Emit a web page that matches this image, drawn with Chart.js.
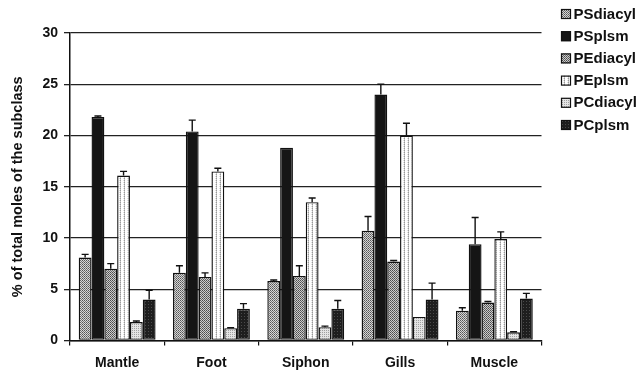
<!DOCTYPE html>
<html><head><meta charset="utf-8">
<script src="https://cdn.jsdelivr.net/npm/chart.js@4.4.0/dist/chart.umd.min.js"></script>
<style>html,body{margin:0;padding:0;background:#fff}#wrap{width:642px;height:371px;position:relative}</style>
</head><body><div id="wrap"><canvas id="c"></canvas></div>
<script>
const categories = ['Mantle', 'Foot', 'Siphon', 'Gills', 'Muscle'];
const seriesNames = ['PSdiacyl', 'PSplsm', 'PEdiacyl', 'PEplsm', 'PCdiacyl', 'PCplsm'];
const PSdiacyl = [8.1, 6.6, 5.8, 10.7, 2.9];
const PSplsm   = [21.8, 20.4, 18.8, 24.0, 9.4];
const PEdiacyl = [7.0, 6.2, 6.3, 7.7, 3.7];
const PEplsm   = [16.1, 16.5, 13.5, 20.0, 9.9];
const PCdiacyl = [1.8, 1.2, 1.3, 2.3, 0.8];
const PCplsm   = [4.0, 3.1, 3.1, 4.0, 4.1];
const PSdiacylErr = [0.3, 0.7, 0.1, 1.4, 0.3];
const PSplsmErr   = [0.1, 1.1, 0.0, 1.0, 2.6];
const PEdiacylErr = [0.5, 0.4, 1.0, 0.1, 0.1];
const PEplsmErr   = [0.4, 0.3, 0.4, 1.2, 0.7];
const PCdiacylErr = [0.1, 0.05, 0.1, 0.0, 0.05];
const PCplsmErr   = [0.9, 0.5, 0.8, 1.6, 0.5];
const yTickValues = [0, 5, 10, 15, 20, 25, 30];
const yAxisTitle = '% of total moles of the subclass';

function makePattern(w, h, bg, dots) {
  const c = document.createElement('canvas');
  c.width = w; c.height = h;
  const g = c.getContext('2d');
  g.fillStyle = bg; g.fillRect(0, 0, w, h);
  dots.forEach(([x, y, col]) => { g.fillStyle = col; g.fillRect(x, y, 1, 1); });
  return g.createPattern(c, 'repeat');
}
const fills = [
  makePattern(2, 2, '#d6d6d6', [[0,0,'#555'],[1,1,'#777']]),
  '#151515',
  makePattern(2, 2, '#cccccc', [[0,0,'#4c4c4c'],[1,1,'#666']]),
  makePattern(4, 2, '#ffffff', [[0,0,'#999'],[0,1,'#c8c8c8'],[3,0,'#e0e0e0']]),
  makePattern(2, 2, '#e4e4e4', [[0,0,'#a0a0a0']]),
  makePattern(3, 3, '#1e1e1e', [[1,1,'#4a4a4a']])
];
const seriesData = [PSdiacyl, PSplsm, PEdiacyl, PEplsm, PCdiacyl, PCplsm];
const seriesErr = [PSdiacylErr, PSplsmErr, PEdiacylErr, PEplsmErr, PCdiacylErr, PCplsmErr];
const FONT = 'Liberation Sans, Arial, sans-serif';

const errorBars = {
  id: 'errorBars',
  afterDatasetsDraw(chart) {
    const ctx = chart.ctx, ys = chart.scales.y;
    chart.data.datasets.forEach((ds, i) => {
      const meta = chart.getDatasetMeta(i);
      meta.data.forEach((bar, j) => {
        const e = ds.errors[j];
        if (!e) return;
        const x = bar.x;
        const y0 = ys.getPixelForValue(ds.data[j]);
        const y1 = ys.getPixelForValue(ds.data[j] + e);
        ctx.save();
        ctx.strokeStyle = '#111'; ctx.lineWidth = 1.4;
        ctx.beginPath();
        ctx.moveTo(x, y0); ctx.lineTo(x, y1);
        ctx.moveTo(x - 3.5, y1); ctx.lineTo(x + 3.5, y1);
        ctx.stroke();
        ctx.restore();
      });
    });
  }
};

const sideLegend = {
  id: 'sideLegend',
  afterDraw(chart) {
    const ctx = chart.ctx;
    const x0 = chart.chartArea.right + 19.5;
    ctx.save();
    ctx.font = 'bold 15px ' + FONT;
    ctx.textBaseline = 'middle';
    ctx.textAlign = 'left';
    chart.data.datasets.forEach((ds, i) => {
      const cy = 14 + i * 22.2;
      ctx.fillStyle = ds.backgroundColor;
      ctx.fillRect(x0, cy - 5, 10, 10);
      ctx.strokeStyle = '#111'; ctx.lineWidth = 1.2;
      ctx.strokeRect(x0 + 0.5, cy - 4.5, 9, 9);
      ctx.fillStyle = '#111';
      ctx.fillText(ds.label, x0 + 12.5, cy + 0.5);
    });
    ctx.restore();
  }
};

new Chart(document.getElementById('c'), {
  type: 'bar',
  data: {
    labels: categories,
    datasets: seriesNames.map((n, i) => ({
      label: n,
      data: seriesData[i],
      errors: seriesErr[i],
      backgroundColor: fills[i],
      borderColor: '#111',
      borderWidth: 1.4,
      borderSkipped: false,
      categoryPercentage: 0.815,
      barPercentage: 1.0
    }))
  },
  options: {
    responsive: true,
    maintainAspectRatio: false,
    animation: false,
    layout: { padding: 0 },
    plugins: {
      legend: { display: false },
      tooltip: { enabled: false }
    },
    scales: {
      x: {
        grid: { offset: true, drawOnChartArea: false, drawTicks: true, tickLength: 5, color: '#111', lineWidth: 1.2 },
        border: { display: true, color: '#111', width: 1.5 },
        ticks: { color: '#111', padding: 9, font: { family: FONT, size: 14, weight: 'bold' } },
        afterFit(s) { s.height = 30.5; }
      },
      x2: {
        type: 'category', position: 'top', display: true,
        grid: { display: false }, border: { display: false }, ticks: { display: false },
        afterFit(s) { s.height = 33; }
      },
      y: {
        min: 0, max: 30,
        afterBuildTicks(s) { s.ticks = yTickValues.map(v => ({ value: v })); },
        grid: { color: '#222', lineWidth: 1.3, tickLength: 6, drawTicks: true },
        border: { display: true, color: '#111', width: 1.5 },
        ticks: { color: '#111', padding: 6, font: { family: FONT, size: 14, weight: 'bold' } },
        title: { display: true, text: yAxisTitle, color: '#111', padding: { top: 9, bottom: 0 }, font: { family: FONT, size: 14.5, weight: 'bold' } },
        afterFit(s) { s.width = 70; }
      },
      y2: {
        position: 'right', display: true,
        grid: { display: false }, border: { display: false }, ticks: { display: false },
        afterFit(s) { s.width = 100.5; }
      }
    }
  },
  plugins: [errorBars, sideLegend]
});
</script></body></html>
